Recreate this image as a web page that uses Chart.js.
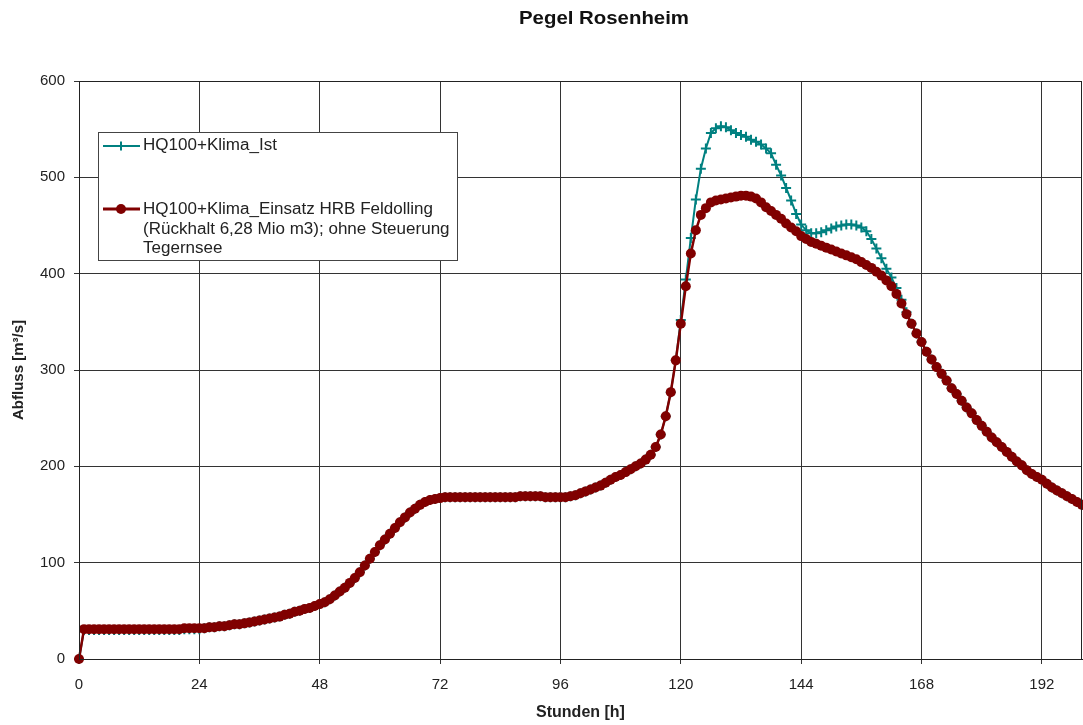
<!DOCTYPE html>
<html>
<head>
<meta charset="utf-8">
<title>Pegel Rosenheim</title>
<script src="https://cdn.jsdelivr.net/npm/chart.js@4.4.0/dist/chart.umd.min.js"></script>
<style>
  html, body { margin: 0; padding: 0; background: #fff; }
</style>
</head>
<body>
<canvas id="myChart" width="1083" height="725"></canvas>
<script>
// Stunden 0..200 (Stundenwerte)
const hours = Array.from({length: 201}, (_, i) => i);

// HQ100+Klima_Einsatz HRB Feldolling (Rückhalt 6,28 Mio m3); ohne Steuerung Tegernsee
const feldolling = [
  0, 31, 31, 31, 31, 31, 31, 31, 31, 31,
  31, 31, 31, 31, 31, 31, 31, 31, 31, 31,
  31, 32, 32, 32, 32, 32, 33, 33, 34, 34,
  35, 36, 36, 37, 38, 39, 40, 41, 42, 43,
  44, 46, 47, 49, 50, 52, 53, 55, 57, 59,
  62, 66, 70, 74, 79, 84, 90, 97, 104, 111,
  118, 124, 130, 136, 142, 147, 152, 156, 160, 163,
  165, 166, 167, 168, 168, 168, 168, 168, 168, 168,
  168, 168, 168, 168, 168, 168, 168, 168, 169, 169,
  169, 169, 169, 168, 168, 168, 168, 168, 169, 170,
  172, 174, 176, 178, 180, 183, 186, 189, 191, 194,
  197, 200, 203, 207, 212, 220, 233, 252, 277, 310,
  348, 387, 421, 445, 461, 468, 474, 476, 477, 478,
  479, 480, 481, 481, 480, 478, 474, 469, 465, 461,
  457, 452, 448, 444, 439, 436, 433, 431, 429, 427,
  425, 423, 421, 419, 417, 415, 412, 409, 406, 402,
  398, 393, 387, 379, 369, 358, 348, 338, 329, 319,
  311, 303, 296, 289, 281, 275, 268, 261, 255, 248,
  242, 236, 230, 225, 220, 215, 210, 205, 201, 196,
  192, 189, 186, 182, 178, 175, 172, 169, 166, 163,
  160
];

// HQ100+Klima_Ist
const klimaIst = [
  0, 30, 30, 30, 30, 30, 30, 30, 30, 30,
  30, 30, 30, 30, 30, 30, 30, 30, 30, 30,
  30, 31, 31, 31, 31, 32, 33, 33, 34, 34,
  35, 36, 36, 37, 38, 39, 40, 41, 42, 43,
  44, 46, 47, 49, 50, 52, 53, 55, 57, 59,
  62, 66, 70, 74, 79, 84, 90, 97, 104, 111,
  118, 124, 130, 136, 142, 147, 152, 156, 160, 163,
  165, 166, 167, 168, 168, 168, 168, 168, 168, 168,
  168, 168, 168, 168, 168, 168, 168, 168, 169, 169,
  169, 169, 169, 168, 168, 168, 168, 168, 169, 170,
  172, 174, 176, 178, 180, 183, 186, 189, 191, 194,
  197, 200, 203, 207, 212, 220, 233, 252, 277, 310,
  352, 394, 437, 477, 509, 530, 546, 551, 553, 552,
  549, 546, 544, 542, 539, 537, 534, 530, 525, 513,
  502, 489, 476, 462, 451, 445, 442, 442, 443, 445,
  447, 449, 450, 451, 451, 450, 448, 444, 436, 426,
  416, 405, 396, 385, 373, 360, 348, 338, 329, 319,
  311, 303, 296, 289, 281, 275, 268, 261, 255, 248,
  242, 236, 230, 225, 220, 215, 210, 205, 201, 196,
  192, 189, 186, 182, 178, 175, 172, 169, 166, 163,
  160
];

const legendLabels = [
  ['HQ100+Klima_Ist'],
  ['HQ100+Klima_Einsatz HRB Feldolling', '(Rückhalt 6,28 Mio m3); ohne Steuerung', 'Tegernsee']
];

const RED = '#800000';
const TEAL = '#008080';
const FONT = '"Liberation Sans", Arial, sans-serif';

// text squeezed/stretched to the width seen in the picture
function fitText(ctx, text, x, y, sx) {
  ctx.save();
  ctx.translate(x, y);
  ctx.scale(sx, 1);
  ctx.fillText(text, 0, 0);
  ctx.restore();
}

const frame = {
  id: 'frame',
  afterDraw(chart) {
    const ctx = chart.ctx;
    const a = chart.chartArea;
    ctx.save();
    // plot box
    ctx.strokeStyle = '#222';
    ctx.lineWidth = 1;
    ctx.strokeRect(Math.round(a.left) + 0.5, Math.round(a.top) + 0.5, Math.round(a.right - a.left) - 1, Math.round(a.bottom - a.top));

    // title
    ctx.fillStyle = '#111';
    ctx.font = 'bold 18px ' + FONT;
    ctx.textBaseline = 'middle';
    const t = 'Pegel Rosenheim';
    const tw = ctx.measureText(t).width;
    const tsx = 170 / tw;
    fitText(ctx, t, 604 - 85, 19, tsx);

    // legend box
    ctx.fillStyle = '#fff';
    ctx.fillRect(98.5, 132.5, 359, 128);
    ctx.strokeStyle = '#444';
    ctx.strokeRect(98.5, 132.5, 359, 128);

    // teal sample
    ctx.strokeStyle = TEAL;
    ctx.lineWidth = 2;
    ctx.beginPath(); ctx.moveTo(103, 146); ctx.lineTo(140, 146); ctx.stroke();
    ctx.beginPath(); ctx.moveTo(121, 141.5); ctx.lineTo(121, 150.5); ctx.stroke();

    // red sample
    ctx.strokeStyle = RED;
    ctx.lineWidth = 3;
    ctx.beginPath(); ctx.moveTo(103, 209); ctx.lineTo(140, 209); ctx.stroke();
    ctx.fillStyle = RED;
    ctx.beginPath(); ctx.arc(121, 209, 5, 0, Math.PI * 2); ctx.fill();

    ctx.fillStyle = '#222';
    ctx.font = '16px ' + FONT;
    ctx.textBaseline = 'middle';
    const sx = 290 / ctx.measureText(legendLabels[1][0]).width;
    fitText(ctx, legendLabels[0][0], 143, 146, sx);
    legendLabels[1].forEach((line, i) => fitText(ctx, line, 143, 210 + i * 19.5, sx));
    ctx.restore();
  }
};

const CHART = document.getElementById('myChart');
const myChart = new Chart(CHART, {
  type: 'line',
  data: {
    datasets: [{
      label: legendLabels[1].join(' '),
      data: hours.map((h, i) => ({x: h, y: feldolling[i]})),
      borderColor: RED,
      backgroundColor: RED,
      borderWidth: 2.5,
      pointStyle: 'circle',
      pointRadius: 5,
      pointBorderWidth: 0,
      pointBackgroundColor: RED,
      tension: 0,
      clip: false
    }, {
      label: legendLabels[0][0],
      data: hours.map((h, i) => ({x: h, y: klimaIst[i]})),
      borderColor: TEAL,
      backgroundColor: TEAL,
      borderWidth: 2,
      pointStyle: 'cross',
      pointRadius: 5,
      pointBorderWidth: 2,
      pointBorderColor: TEAL,
      tension: 0,
      clip: false
    }]
  },
  options: {
    responsive: false,
    animation: false,
    layout: {autoPadding: false, padding: {top: 81, right: 1, left: 0, bottom: 0}},
    plugins: {
      legend: {display: false},
      tooltip: {enabled: false},
      title: {display: false}
    },
    scales: {
      x: {
        type: 'linear',
        min: 0,
        max: 200,
        afterFit(s) { s.height = 66; },
        ticks: {stepSize: 24, includeBounds: false, maxRotation: 0, autoSkip: false,
                color: '#222', padding: 12, font: {family: FONT, size: 15}},
        grid: {color: '#333', lineWidth: 1, tickLength: 5},
        border: {color: '#111', width: 1},
        title: {display: true, text: 'Stunden [h]', color: '#222',
                font: {family: FONT, size: 16, weight: 'bold'}, padding: {top: 0, bottom: 3}}
      },
      y: {
        min: 0,
        max: 600,
        afterFit(s) { s.width = 79; },
        ticks: {stepSize: 100, color: '#222', padding: 9, font: {family: FONT, size: 15}},
        grid: {color: '#333', lineWidth: 1, tickLength: 5},
        border: {color: '#111', width: 1},
        title: {display: true, text: 'Abfluss [m³/s]', color: '#222',
                font: {family: FONT, size: 15, weight: 'bold'}, padding: {top: 10, bottom: 0}}
      }
    }
  },
  plugins: [frame]
});
</script>
</body>
</html>
